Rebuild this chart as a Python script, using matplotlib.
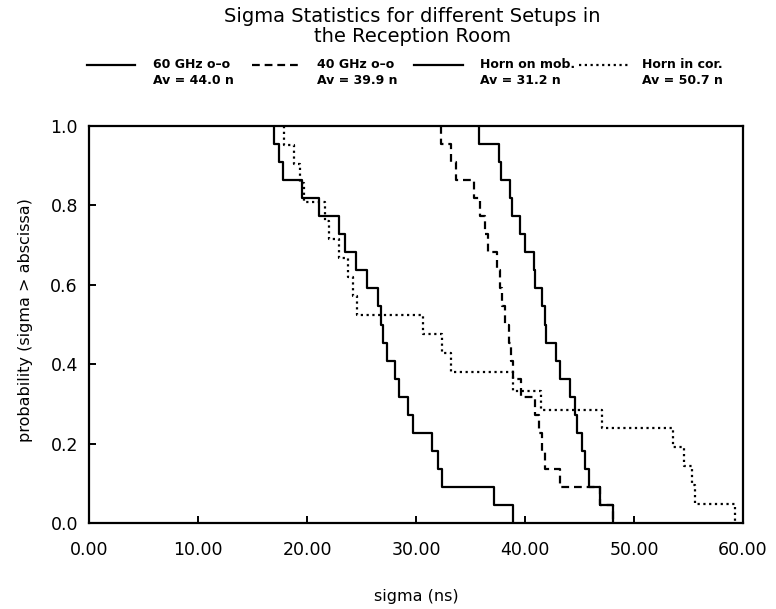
import numpy as np
import matplotlib
matplotlib.use("Agg")
import matplotlib.pyplot as plt
from matplotlib.lines import Line2D

# ---- data (sorted sigma samples, ns) ----
ghz60 = [35.8, 37.6, 37.8, 38.6, 38.8, 39.5, 40.0, 40.8, 40.9, 41.6, 41.8,
         41.9, 42.8, 43.2, 44.1, 44.6, 44.8, 45.2, 45.5, 45.9, 46.9, 48.1]
ghz40 = [32.3, 33.2, 33.7, 35.3, 35.9, 36.3, 36.6, 37.4, 37.7, 37.9, 38.2,
         38.5, 38.7, 38.9, 39.6, 40.9, 41.3, 41.6, 41.8, 43.2, 46.9, 48.1]
horn_mob = [17.0, 17.4, 17.8, 19.5, 21.1, 22.9, 23.5, 24.5, 25.5, 26.5, 26.8,
            27.0, 27.3, 28.1, 28.4, 29.3, 29.7, 31.5, 32.0, 32.4, 37.2, 38.9]
horn_cor = [17.9, 18.8, 19.4, 19.7, 21.65, 22.0, 22.9, 23.8, 24.2, 24.6, 30.6,
            32.4, 33.2, 38.9, 41.45, 47.1, 53.55, 54.6, 55.3, 55.6, 59.3]

labels = ["60 GHz o\u2013o", "40 GHz o\u2013o", "Horn on mob.", "Horn in cor."]
averages = ["Av = 44.0 n", "Av = 39.9 n", "Av = 31.2 n", "Av = 50.7 n"]
xticks = [0, 10, 20, 30, 40, 50, 60]
yticks = [0.0, 0.2, 0.4, 0.6, 0.8, 1.0]

series = [ghz60, ghz40, horn_mob, horn_cor]
styles = [dict(ls="-"), dict(ls=(0, (3.5, 2.2))), dict(ls="-"), dict(ls=(0, (1.0, 1.6)))]

W, H = 776, 609
fig = plt.figure(figsize=(W / 100, H / 100), dpi=100)
ax = fig.add_axes([89 / W, 1 - 523 / H, 654 / W, 397 / H])

for vals, st in zip(series, styles):
    v = np.sort(np.asarray(vals, float))
    n = len(v)
    xs = np.r_[v[0], v]
    ys = np.r_[1.0, (n - np.arange(1, n + 1)) / n]
    ax.step(xs, ys, where="post", color="black", lw=1.6, **st)

ax.set_xlim(0, 60)
ax.set_ylim(0, 1)
for s in ax.spines.values():
    s.set_linewidth(1.6)

ax.set_xticks(xticks)
ax.set_xticklabels([f"{t:.2f}" for t in xticks])
ax.set_yticks(yticks)
ax.set_yticklabels([f"{t:.1f}" for t in yticks])
ax.tick_params(axis="both", direction="in", length=5, width=1.4,
               labelsize=12.5, colors="black")
ax.tick_params(axis="x", pad=13)
ax.tick_params(axis="y", pad=8)
# hide ticks at the extremes (reference has only inner ticks)
for t in ax.xaxis.get_major_ticks():
    if t.get_loc() in (0, 60):
        t.tick1line.set_visible(False)
for t in ax.yaxis.get_major_ticks():
    if t.get_loc() in (0.0, 1.0):
        t.tick1line.set_visible(False)

# titles / axis labels
fig.text(412 / W, 1 - 17 / H, "Sigma Statistics for different Setups in",
         ha="center", va="center", fontsize=14)
fig.text(412 / W, 1 - 36 / H, "the Reception Room",
         ha="center", va="center", fontsize=14)
fig.text(416 / W, 1 - 597 / H, "sigma (ns)", ha="center", va="center", fontsize=11.5)
fig.text(26 / W, 1 - 320 / H, "probability (sigma > abscissa)", ha="center",
         va="center", rotation=90, fontsize=11.5)

# legend drawn manually
line_x = [(87, 135), (252, 300), (414, 463), (579, 628)]
text_x = [153, 317, 480, 642]
for (x0, x1), tx, lab, av, st in zip(line_x, text_x, labels, averages, styles):
    fig.add_artist(Line2D([x0 / W, x1 / W], [1 - 65 / H, 1 - 65 / H],
                          transform=fig.transFigure, color="black", lw=1.6, **st))
    fig.text(tx / W, 1 - 65 / H, lab, ha="left", va="center", fontsize=9,
             fontweight="bold")
    fig.text(tx / W, 1 - 81 / H, av, ha="left", va="center", fontsize=9,
             fontweight="bold")

fig.savefig("out.png", dpi=100, facecolor="white")
